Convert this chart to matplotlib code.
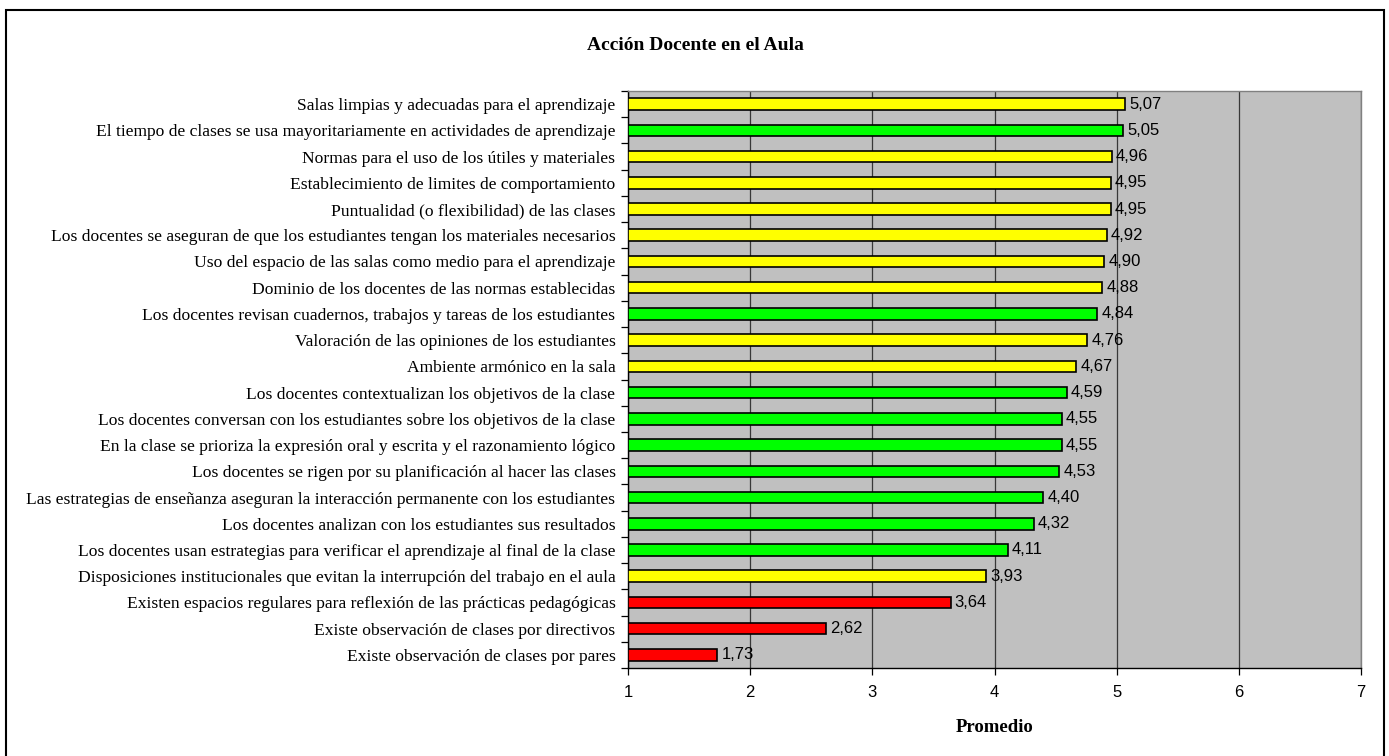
import matplotlib
matplotlib.use("Agg")
import matplotlib.pyplot as plt
from matplotlib.patches import Rectangle

categories = [
    "Salas limpias y adecuadas para el aprendizaje",
    "El tiempo de clases se usa mayoritariamente en actividades de aprendizaje",
    "Normas para el uso de los útiles y materiales",
    "Establecimiento de limites de comportamiento",
    "Puntualidad (o flexibilidad) de las clases",
    "Los docentes se aseguran de que los estudiantes tengan los materiales necesarios",
    "Uso del espacio de las salas como medio para el aprendizaje",
    "Dominio de los docentes de las normas establecidas",
    "Los docentes revisan cuadernos, trabajos y tareas de los estudiantes",
    "Valoración de las opiniones de los estudiantes",
    "Ambiente armónico en la sala",
    "Los docentes contextualizan los objetivos de la clase",
    "Los docentes conversan con los estudiantes sobre los objetivos de la clase",
    "En la clase se prioriza la expresión oral y escrita y el razonamiento lógico",
    "Los docentes se rigen por su planificación al hacer las clases",
    "Las estrategias de enseñanza aseguran la interacción permanente con los estudiantes",
    "Los docentes analizan con los estudiantes sus resultados",
    "Los docentes usan estrategias para verificar el aprendizaje al final de la clase",
    "Disposiciones institucionales que evitan la interrupción del trabajo en el aula",
    "Existen espacios regulares para reflexión de las prácticas pedagógicas",
    "Existe observación de clases por directivos",
    "Existe observación de clases por pares",
]
values = [5.07, 5.05, 4.96, 4.95, 4.95, 4.92, 4.90, 4.88, 4.84, 4.76, 4.67,
          4.59, 4.55, 4.55, 4.53, 4.40, 4.32, 4.11, 3.93, 3.64, 2.62, 1.73]
groups = ["Y", "G", "Y", "Y", "Y", "Y", "Y", "Y", "G", "Y", "Y",
          "G", "G", "G", "G", "G", "G", "G", "Y", "R", "R", "R"]
palette = {"Y": "#FFFF00", "G": "#00FF00", "R": "#FF0000"}
x_ticks = [1, 2, 3, 4, 5, 6, 7]

title = "Acción Docente en el Aula"
x_label = "Promedio"

serif = "Liberation Serif"
sans = "Liberation Sans"

W, H = 1389, 756
fig = plt.figure(figsize=(W / 100, H / 100), dpi=100)
fig.patch.set_facecolor("white")

# outer chart frame
fig.add_artist(Rectangle((6 / W, -0.01), 1378 / W, 1 - 10 / H + 0.01,
                         transform=fig.transFigure, fill=False,
                         edgecolor="black", linewidth=1.5))

left, right, top, bottom = 628, 1361, 91, 668
ax = fig.add_axes([left / W, 1 - bottom / H, (right - left) / W, (bottom - top) / H])
ax.set_facecolor("#C0C0C0")

n = len(categories)
ypos = list(range(n))
base = x_ticks[0]
ax.barh(ypos, [v - base for v in values], left=base, height=0.44,
        color=[palette[g] for g in groups], edgecolor="black", linewidth=1.2,
        zorder=3)

for y, v in zip(ypos, values):
    ax.annotate(f"{v:.2f}".replace(".", ","), (v, y), xytext=(3, 0),
                textcoords="offset points", va="center", ha="left",
                fontsize=12, family=sans, zorder=4)

ax.set_xlim(x_ticks[0], x_ticks[-1])
ax.set_ylim(n - 0.5, -0.5)
ax.set_xticks(x_ticks)
ax.set_xticklabels([str(t) for t in x_ticks], family=sans, fontsize=12)
ax.xaxis.grid(True, color="#383838", linewidth=0.9, zorder=1)
ax.set_axisbelow(True)

# category ticks sit on the boundaries between bars
ax.set_yticks([i - 0.5 for i in range(n + 1)])
ax.set_yticklabels([])
ax.set_yticks(ypos, minor=True)
ax.set_yticklabels(categories, minor=True, family=serif, fontsize=12.6)
ax.tick_params(axis="y", which="minor", length=0, pad=9)
ax.tick_params(axis="y", which="major", length=5, width=0.9, direction="out")
ax.tick_params(axis="x", length=5, width=0.9, direction="out", pad=7)

for s in ("top", "right"):
    ax.spines[s].set_color("#808080")
    ax.spines[s].set_linewidth(1.0)
for s in ("left", "bottom"):
    ax.spines[s].set_color("black")
    ax.spines[s].set_linewidth(1.0)

fig.text(695 / W, 1 - 45 / H, title, ha="center", va="center",
         family=serif, fontweight="bold", fontsize=14)
fig.text(995 / W, 1 - 727 / H, x_label, ha="center", va="center",
         family=serif, fontweight="bold", fontsize=13.5)

fig.savefig("out.png", dpi=100, facecolor="white")
